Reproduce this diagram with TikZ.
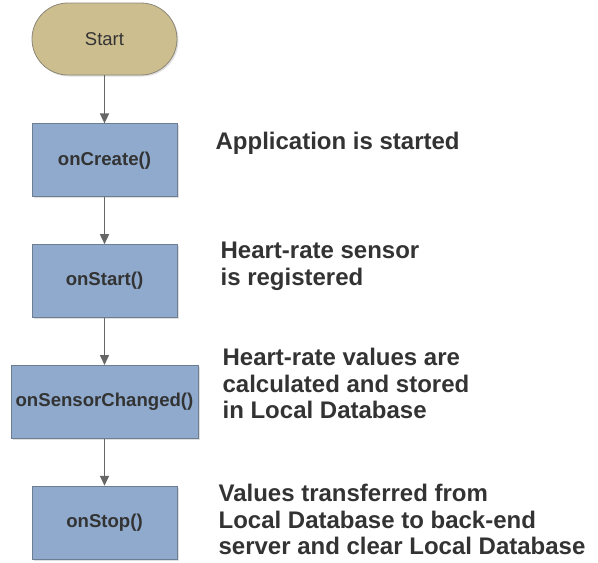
\documentclass[tikz,border=0pt]{standalone}
\usepackage{fontspec}
\setsansfont{Liberation Sans}
\usepackage{xcolor}
\usepackage{tikz}
\usetikzlibrary{arrows.meta, positioning, shadows}

\definecolor{boxblue}{HTML}{8FAACD}
\definecolor{boxline}{HTML}{6E7E92}
\definecolor{startfill}{HTML}{CCBE8F}
\definecolor{startline}{HTML}{8C8778}
\definecolor{arrowgray}{HTML}{666666}
\definecolor{textgray}{HTML}{333333}

\begin{document}
\begin{tikzpicture}[
    x=1pt, y=-1pt,
    node distance = 48pt and 38pt,
    terminal/.style = {rectangle, rounded corners=36pt, draw=startline, thick, fill=startfill,
                       minimum width=145pt, minimum height=72pt, inner sep=0pt,
                       font=\sffamily\fontsize{18.5}{22}\selectfont, text=textgray,
                       drop shadow={opacity=0.25, shadow xshift=1.5pt, shadow yshift=-1.5pt}},
    method/.style = {rectangle, draw=boxline, thick, fill=boxblue,
                     minimum width=145pt, minimum height=73pt, inner sep=0pt,
                     font=\sffamily\bfseries\fontsize{18.6}{22}\selectfont, text=textgray,
                     drop shadow={opacity=0.25, shadow xshift=1.5pt, shadow yshift=-1.5pt}},
    note/.style = {inner sep=0pt, align=left, text=textgray,
                   font=\sffamily\bfseries\fontsize{24}{26.5}\selectfont},
    arrow/.style = {-{Triangle[width=9pt,length=10pt]}, draw=arrowgray, line width=1.5pt}
]
\useasboundingbox (0,0) rectangle (598,563);

% Flow
\node[terminal] (start) at (104.5,39) {Start};
\node[method, below=of start] (create) {onCreate()};
\node[method, below=47pt of create] (onstart) {onStart()};
\node[method, below=47pt of onstart, minimum width=187pt] (changed) {onSensorChanged()};
\node[method, below=47pt of changed] (stop) {onStop()};

% Arrows
\draw[arrow] (start) -- (create);
\draw[arrow] (create) -- (onstart);
\draw[arrow] (onstart) -- (changed);
\draw[arrow] (changed) -- (stop);

% Annotations
\node[note, right=38pt of create, yshift=17pt] (n1) {Application is started};
\node[note, right=43pt of onstart, yshift=15pt] (n2) {Heart-rate sensor\\is registered};
\node[note, right=24pt of changed, yshift=18pt] (n3) {Heart-rate values are\\calculated and stored\\in Local Database};
\node[note, right=41pt of stop, yshift=3pt] (n4) {Values transferred from\\Local Database to back-end\\server and clear Local Database};

\end{tikzpicture}
\end{document}
